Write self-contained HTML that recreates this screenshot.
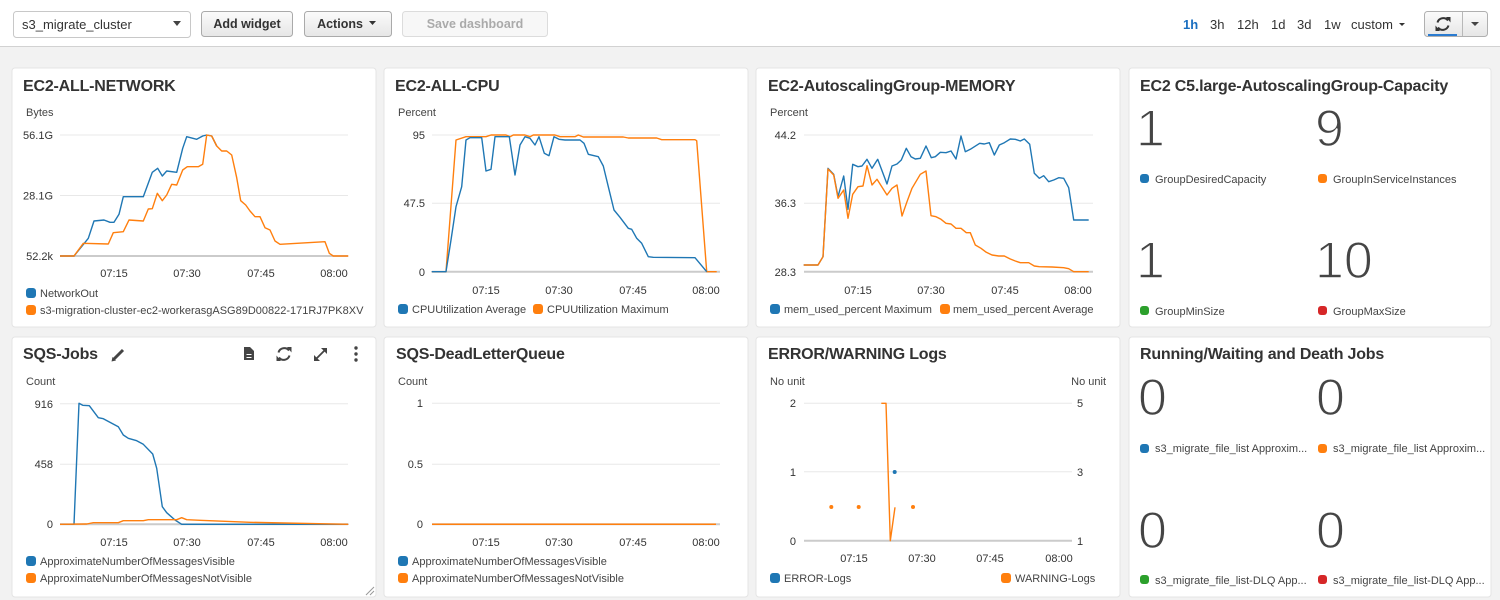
<!DOCTYPE html>
<html><head><meta charset="utf-8"><style>
html,body{margin:0;padding:0;width:1500px;height:600px;overflow:hidden;background:#f2f2f2;}
svg{position:absolute;left:0;top:0;font-family:"Liberation Sans",Arial,sans-serif;}
.t{font-size:16px;font-weight:bold;fill:#333;letter-spacing:-0.2px}
.u{font-size:11px;fill:#444}
.yt{font-size:11px;fill:#333;text-anchor:end}
.yr{font-size:11px;fill:#333;text-anchor:start}
.xt{font-size:11px;fill:#333;text-anchor:middle}
.lg{font-size:11px;fill:#444}
.big{font-size:52px;fill:#454545;stroke:#fff;stroke-width:1.4px}
.g{stroke:#e8e8e8;stroke-width:1}
.b{stroke:#cbcbcb;stroke-width:2}
.s{fill:none;stroke-width:1.4;stroke-linejoin:round}
.bl{stroke:#1f77b4}.or{stroke:#ff7f0e}
.btn{font-size:12.5px;font-weight:bold;fill:#333;text-anchor:middle}
.tr{font-size:13px;fill:#333}
</style></head><body>
<svg width="1500" height="600" viewBox="0 0 1500 600">
<defs>
<linearGradient id="bg" x1="0" y1="0" x2="0" y2="1"><stop offset="0" stop-color="#fbfbfb"/><stop offset="1" stop-color="#e6e6e6"/></linearGradient>
</defs>
<!-- top bar -->
<rect x="0" y="0" width="1500" height="46" fill="#fff"/>
<line x1="0" y1="46.5" x2="1500" y2="46.5" stroke="#d2d2d2"/>
<rect x="13.5" y="11.5" width="177" height="26" rx="3" fill="#fff" stroke="#c8c8c8"/>
<text x="22" y="29" style="font-size:13px;fill:#333">s3_migrate_cluster</text>
<polygon points="173,21 181,21 177,26" fill="#444"/>
<rect x="201.5" y="11.5" width="91" height="25" rx="3" fill="url(#bg)" stroke="#aaa"/>
<text x="247" y="28" class="btn">Add widget</text>
<rect x="304.5" y="11.5" width="87" height="25" rx="3" fill="url(#bg)" stroke="#aaa"/>
<text x="340" y="28" class="btn">Actions</text>
<polygon points="369,21 376,21 372.5,25" fill="#333"/>
<rect x="402.5" y="11.5" width="145" height="25" rx="3" fill="#f7f7f7" stroke="#dcdcdc"/>
<text x="475" y="28" class="btn" style="fill:#aaa">Save dashboard</text>
<text x="1183" y="29" class="tr" style="fill:#1a6fc0;font-weight:bold">1h</text>
<text x="1210" y="29" class="tr">3h</text>
<text x="1237" y="29" class="tr">12h</text>
<text x="1271" y="29" class="tr">1d</text>
<text x="1297" y="29" class="tr">3d</text>
<text x="1324" y="29" class="tr">1w</text>
<text x="1351" y="29" class="tr">custom</text>
<polygon points="1399,23 1405,23 1402,26" fill="#333"/>
<rect x="1424.5" y="11.5" width="63" height="25" rx="3" fill="url(#bg)" stroke="#b0b0b0"/>
<line x1="1462.5" y1="12" x2="1462.5" y2="36" stroke="#b8b8b8"/>
<rect x="1428" y="34" width="29" height="2" fill="#2a7bd0"/>
<path d="M1437.5,22.5 A6,6 0 0 1 1448,20.5" fill="none" stroke="#333" stroke-width="2"/>
<polygon points="1446,17 1450.5,17 1450.5,22.5" fill="#333"/>
<path d="M1448.5,25.5 A6,6 0 0 1 1438,27.5" fill="none" stroke="#333" stroke-width="2"/>
<polygon points="1440,31 1435.5,31 1435.5,25.5" fill="#333"/>
<polygon points="1471,22 1479,22 1475,26" fill="#444"/>

<!-- panels -->
<rect x="12" y="68" width="364" height="259" rx="3" fill="#fff" stroke="#e4e4e4"/>
<rect x="384" y="68" width="364" height="259" rx="3" fill="#fff" stroke="#e4e4e4"/>
<rect x="756" y="68" width="364" height="259" rx="3" fill="#fff" stroke="#e4e4e4"/>
<rect x="1129" y="68" width="362" height="259" rx="3" fill="#fff" stroke="#e4e4e4"/>
<rect x="12" y="337" width="364" height="260" rx="3" fill="#fff" stroke="#e4e4e4"/>
<rect x="384" y="337" width="364" height="260" rx="3" fill="#fff" stroke="#e4e4e4"/>
<rect x="756" y="337" width="364" height="260" rx="3" fill="#fff" stroke="#e4e4e4"/>
<rect x="1129" y="337" width="362" height="260" rx="3" fill="#fff" stroke="#e4e4e4"/>

<!-- Panel 1 NETWORK -->
<text x="23" y="91" class="t">EC2-ALL-NETWORK</text>
<text x="26" y="116" class="u">Bytes</text>
<line x1="60" y1="135" x2="348" y2="135" class="g"/>
<line x1="60" y1="195.5" x2="348" y2="195.5" class="g"/>
<line x1="60" y1="256" x2="348" y2="256" class="b"/>
<text x="53" y="139" class="yt">56.1G</text>
<text x="53" y="199.5" class="yt">28.1G</text>
<text x="53" y="260" class="yt">52.2k</text>
<text x="114" y="277" class="xt">07:15</text>
<text x="187" y="277" class="xt">07:30</text>
<text x="261" y="277" class="xt">07:45</text>
<text x="334" y="277" class="xt">08:00</text>
<polyline class="s bl" points="60,256 74,256 88.3,238.3 94,221 104,220 110,222.3 114,222.3 119,214.3 123.3,196.7 143.3,196.7 152.3,172.3 157.7,168.3 162.3,176 166.7,171 176.7,172.3 182.7,148.3 186.7,136.7 196.7,139.3 202.7,136 206.7,135 211.7,136 216.7,146"/>
<polyline class="s or" points="60,256 74,256 83.3,243.3 108.3,244 113.3,232.7 123.3,231.7 129,220 143.3,221 148.3,209 152.3,208.7 157.3,193.3 162.3,200.7 166.7,195 171.7,184.3 176.7,185 182.7,170 187.3,166.7 198.3,166.7 202.7,164.3 206.7,135 211.7,136 216.7,146 221.7,151 226.7,151 231.7,155 236.7,177.7 240.7,200.7 245.7,205 250,211 255,216.7 260,216.7 265,227.7 270,230 275,241 280,244.3 325,241.7 329.3,253.3 333.3,256 348.3,256"/>
<rect x="26" y="288" width="10" height="10" rx="3" fill="#1f77b4"/>
<text x="40" y="297" class="lg">NetworkOut</text>
<rect x="26" y="305" width="10" height="10" rx="3" fill="#ff7f0e"/>
<text x="40" y="314" class="lg">s3-migration-cluster-ec2-workerasgASG89D00822-171RJ7PK8XV</text>

<!-- Panel 2 CPU -->
<text x="395" y="91" class="t">EC2-ALL-CPU</text>
<text x="398" y="116" class="u">Percent</text>
<line x1="432" y1="135" x2="720" y2="135" class="g"/>
<line x1="432" y1="203.3" x2="720" y2="203.3" class="g"/>
<line x1="432" y1="271.7" x2="720" y2="271.7" class="b"/>
<text x="425" y="139" class="yt">95</text>
<text x="425" y="207" class="yt">47.5</text>
<text x="425" y="276" class="yt">0</text>
<text x="486" y="294" class="xt">07:15</text>
<text x="559" y="294" class="xt">07:30</text>
<text x="633" y="294" class="xt">07:45</text>
<text x="706" y="294" class="xt">08:00</text>
<polyline class="s or" points="431.7,271.7 446,271.7 456,140 466,136.7 486,136.7 491,135 506,135 510,136.7 513.3,135 525,135 530,136.7 533.3,135 555,135 560,136.7 575,136.7 578.3,135 583.3,137 623.3,137 628.3,138 656.7,138 661.7,139.7 695,139.7 696.7,140.7 706.7,271.7 716.7,271.7"/>
<polyline class="s bl" points="431.7,271.7 446,271.7 451,240 456,206.7 461.7,186.7 466,140 470,137.7 481.7,137.7 486,171 491,169.3 495,136.7 509.3,136.7 515,175 520,145 525,136.7 530,138.3 535,145 539,136.7 544.3,153.3 549,155.7 554,136.7 559,139.3 565,140 580,140 584,143.3 588.3,154.3 598.3,156.7 603.3,166 608.3,186.7 614,210 620,217.3 628.3,228.3 631.7,229.3 636.7,238.3 641.7,243.3 648.3,256.7 653.3,257.3 695,257.7 706.7,271.7"/>
<rect x="398" y="304" width="10" height="10" rx="3" fill="#1f77b4"/>
<text x="412" y="313" class="lg">CPUUtilization Average</text>
<rect x="533" y="304" width="10" height="10" rx="3" fill="#ff7f0e"/>
<text x="547" y="313" class="lg">CPUUtilization Maximum</text>

<!-- Panel 3 MEMORY -->
<text x="768" y="91" class="t">EC2-AutoscalingGroup-MEMORY</text>
<text x="770" y="116" class="u">Percent</text>
<line x1="804" y1="135" x2="1093" y2="135" class="g"/>
<line x1="804" y1="203.3" x2="1093" y2="203.3" class="g"/>
<line x1="804" y1="271.7" x2="1093" y2="271.7" class="b"/>
<text x="796" y="139" class="yt">44.2</text>
<text x="796" y="207" class="yt">36.3</text>
<text x="796" y="276" class="yt">28.3</text>
<text x="858" y="294" class="xt">07:15</text>
<text x="931" y="294" class="xt">07:30</text>
<text x="1005" y="294" class="xt">07:45</text>
<text x="1078" y="294" class="xt">08:00</text>
<polyline class="s bl" points="803.7,265 818,265 823,256.7 828,168.3 833.7,174.3 838,196.7 843.7,176 848,209.3 852.7,164.3 858,166.7 862,166 867,159.3 872,168.3 877.7,159.3 887,184 892,166 897,164 901.3,160 906.3,148.3 911,156.7 915.3,159 920.3,158.3 926,146 931.3,157.7 935.3,156.7 940.3,152.3 946,152.7 951,151 956,159 961,136 965.3,151.7 970.3,149.3 979.7,143.3 984.3,144 989.3,142.7 994.3,155 999.3,145 1004.3,142.7 1010.3,139 1015.3,139.3 1020.3,141 1024.3,139 1029.7,144.3 1034.3,173.3 1039.3,178.3 1043.7,175.7 1048.7,181.7 1053.7,180 1058.7,177.7 1063.7,178.3 1068.7,187.7 1073.7,220 1088.7,220"/>
<polyline class="s or" points="803.7,265 818,265 823,256.7 828,169 833.7,175 838,198.3 843.7,190 848,218.3 852.7,194.3 858,186.7 863,186 867,165.7 872,185 877,179.3 887,195 892,188.3 897,185 902,216 907,201.7 912,188.3 920.3,174.3 926,171 931,215.7 936,216.7 941,219.3 946,223.3 951,224 956,228.3 961,228.3 966.3,232.7 970.3,232.7 975.3,245 981,248.3 986.3,252.3 992,255 998.7,256 1004.3,256 1010.3,259 1015.3,261 1020.3,262.7 1028.7,262.7 1034.3,266 1039.3,266.7 1052,267 1063.7,267.7 1068.7,268.7 1073.7,271.7 1088.7,271.7"/>
<rect x="770" y="304" width="10" height="10" rx="3" fill="#1f77b4"/>
<text x="784" y="313" class="lg">mem_used_percent Maximum</text>
<rect x="940" y="304" width="10" height="10" rx="3" fill="#ff7f0e"/>
<text x="953" y="313" class="lg">mem_used_percent Average</text>

<!-- Panel 4 Capacity -->
<text x="1140" y="91" class="t">EC2 C5.large-AutoscalingGroup-Capacity</text>
<text x="1136" y="146" class="big">1</text>
<text x="1315" y="146" class="big">9</text>
<rect x="1140" y="174" width="9" height="9" rx="3" fill="#1f77b4"/>
<text x="1155" y="183" class="lg">GroupDesiredCapacity</text>
<rect x="1318" y="174" width="9" height="9" rx="3" fill="#ff7f0e"/>
<text x="1333" y="183" class="lg">GroupInServiceInstances</text>
<text x="1136" y="278" class="big">1</text>
<text x="1315" y="278" class="big">10</text>
<rect x="1140" y="306" width="9" height="9" rx="3" fill="#2ca02c"/>
<text x="1155" y="315" class="lg">GroupMinSize</text>
<rect x="1318" y="306" width="9" height="9" rx="3" fill="#d62728"/>
<text x="1333" y="315" class="lg">GroupMaxSize</text>

<!-- Panel 5 SQS-Jobs -->
<text x="23" y="359" class="t">SQS-Jobs</text>
<g fill="#444" stroke="#444">
<line x1="114" y1="359" x2="123" y2="350" stroke-width="3"/>
<polygon points="111.5,361.5 112.5,357 116,360.5" stroke="none"/>
</g>
<path d="M244,347 h6 l4,4 v9 h-10 z" fill="#444"/>
<path d="M246.5,354.5 h5 M246.5,357.5 h5" stroke="#fff" stroke-width="1"/>
<path d="M278.5,352.5 A6,6 0 0 1 289,350.5" fill="none" stroke="#444" stroke-width="2"/>
<polygon points="287,347 291.5,347 291.5,352.5" fill="#444"/>
<path d="M289.5,355.5 A6,6 0 0 1 279,357.5" fill="none" stroke="#444" stroke-width="2"/>
<polygon points="281,361 276.5,361 276.5,355.5" fill="#444"/>
<line x1="315.5" y1="359.5" x2="325.5" y2="349.5" stroke="#444" stroke-width="1.8"/>
<polygon points="314,361 314,355 320,361" fill="#444"/>
<polygon points="327,348 327,354 321,348" fill="#444"/>
<circle cx="356" cy="348" r="1.7" fill="#444"/>
<circle cx="356" cy="354" r="1.7" fill="#444"/>
<circle cx="356" cy="360" r="1.7" fill="#444"/>
<text x="26" y="385" class="u">Count</text>
<line x1="60" y1="403.7" x2="348" y2="403.7" class="g"/>
<line x1="60" y1="464.3" x2="348" y2="464.3" class="g"/>
<line x1="60" y1="524.3" x2="348" y2="524.3" class="b"/>
<text x="53" y="408" class="yt">916</text>
<text x="53" y="468" class="yt">458</text>
<text x="53" y="528" class="yt">0</text>
<text x="114" y="546" class="xt">07:15</text>
<text x="187" y="546" class="xt">07:30</text>
<text x="261" y="546" class="xt">07:45</text>
<text x="334" y="546" class="xt">08:00</text>
<polyline class="s bl" points="60,524.3 74,524.3 79,403.3 82.7,405.3 89.3,405.7 98.3,417.7 103.3,418.7 118.3,426.7 123.3,435 128.3,438.3 136.7,440.7 143.3,444.3 152.7,454 156.7,468.3 162.3,506.7 166.7,512.7 175,520 181.7,524.3 348.3,524.3"/>
<polyline class="s or" points="60,524.3 86.7,524 93.3,522.7 118.3,522.7 123.3,520.7 143.3,520.7 148.3,519.7 176.7,519.7 181.7,517.7 186.7,519.7 200,520.3 250,522.3 348.3,524.3"/>
<rect x="26" y="556" width="10" height="10" rx="3" fill="#1f77b4"/>
<text x="40" y="565" class="lg">ApproximateNumberOfMessagesVisible</text>
<rect x="26" y="573" width="10" height="10" rx="3" fill="#ff7f0e"/>
<text x="40" y="582" class="lg">ApproximateNumberOfMessagesNotVisible</text>
<path d="M366,595 L374,587 M370,595 L374,591" stroke="#999" stroke-width="1"/>

<!-- Panel 6 DLQ -->
<text x="396" y="359" class="t">SQS-DeadLetterQueue</text>
<text x="398" y="385" class="u">Count</text>
<line x1="432" y1="403.3" x2="720" y2="403.3" class="g"/>
<line x1="432" y1="464.3" x2="720" y2="464.3" class="g"/>
<line x1="432" y1="524.3" x2="720" y2="524.3" class="b"/>
<text x="423" y="407" class="yt">1</text>
<text x="423" y="468" class="yt">0.5</text>
<text x="423" y="528" class="yt">0</text>
<text x="486" y="546" class="xt">07:15</text>
<text x="559" y="546" class="xt">07:30</text>
<text x="633" y="546" class="xt">07:45</text>
<text x="706" y="546" class="xt">08:00</text>
<line x1="432" y1="524.3" x2="716" y2="524.3" stroke="#1f77b4" stroke-width="1.5"/>
<line x1="432" y1="524.3" x2="716" y2="524.3" stroke="#ff7f0e" stroke-width="1.5"/>
<rect x="398" y="556" width="10" height="10" rx="3" fill="#1f77b4"/>
<text x="412" y="565" class="lg">ApproximateNumberOfMessagesVisible</text>
<rect x="398" y="573" width="10" height="10" rx="3" fill="#ff7f0e"/>
<text x="412" y="582" class="lg">ApproximateNumberOfMessagesNotVisible</text>

<!-- Panel 7 ERROR/WARNING -->
<text x="768" y="359" class="t">ERROR/WARNING Logs</text>
<text x="770" y="385" class="u">No unit</text>
<text x="1106" y="385" class="u" style="text-anchor:end">No unit</text>
<line x1="804" y1="403.3" x2="1072" y2="403.3" class="g"/>
<line x1="804" y1="471.7" x2="1072" y2="471.7" class="g"/>
<line x1="804" y1="540.7" x2="1072" y2="540.7" class="b"/>
<text x="796" y="407" class="yt">2</text>
<text x="796" y="476" class="yt">1</text>
<text x="796" y="545" class="yt">0</text>
<text x="1077" y="407" class="yr">5</text>
<text x="1077" y="476" class="yr">3</text>
<text x="1077" y="545" class="yr">1</text>
<text x="854" y="562" class="xt">07:15</text>
<text x="922" y="562" class="xt">07:30</text>
<text x="990" y="562" class="xt">07:45</text>
<text x="1059" y="562" class="xt">08:00</text>
<polyline class="s or" points="881.3,403.3 886,403.3 890.3,540.7 895,507.3"/>
<circle cx="894.7" cy="472" r="2" fill="#1f77b4"/>
<circle cx="831.3" cy="507" r="2" fill="#ff7f0e"/>
<circle cx="858.7" cy="507" r="2" fill="#ff7f0e"/>
<circle cx="913" cy="507" r="2" fill="#ff7f0e"/>
<rect x="770" y="573" width="10" height="10" rx="3" fill="#1f77b4"/>
<text x="784" y="582" class="lg">ERROR-Logs</text>
<rect x="1001" y="573" width="10" height="10" rx="3" fill="#ff7f0e"/>
<text x="1015" y="582" class="lg">WARNING-Logs</text>

<!-- Panel 8 Running/Waiting -->
<text x="1140" y="359" class="t">Running/Waiting and Death Jobs</text>
<text x="1138" y="415" class="big">0</text>
<text x="1316" y="415" class="big">0</text>
<rect x="1140" y="444" width="9" height="9" rx="3" fill="#1f77b4"/>
<text x="1155" y="452" class="lg">s3_migrate_file_list Approxim...</text>
<rect x="1318" y="444" width="9" height="9" rx="3" fill="#ff7f0e"/>
<text x="1333" y="452" class="lg">s3_migrate_file_list Approxim...</text>
<text x="1138" y="548" class="big">0</text>
<text x="1316" y="548" class="big">0</text>
<rect x="1140" y="575" width="9" height="9" rx="3" fill="#2ca02c"/>
<text x="1155" y="584" class="lg">s3_migrate_file_list-DLQ App...</text>
<rect x="1318" y="575" width="9" height="9" rx="3" fill="#d62728"/>
<text x="1333" y="584" class="lg">s3_migrate_file_list-DLQ App...</text>
</svg>
</body></html>
